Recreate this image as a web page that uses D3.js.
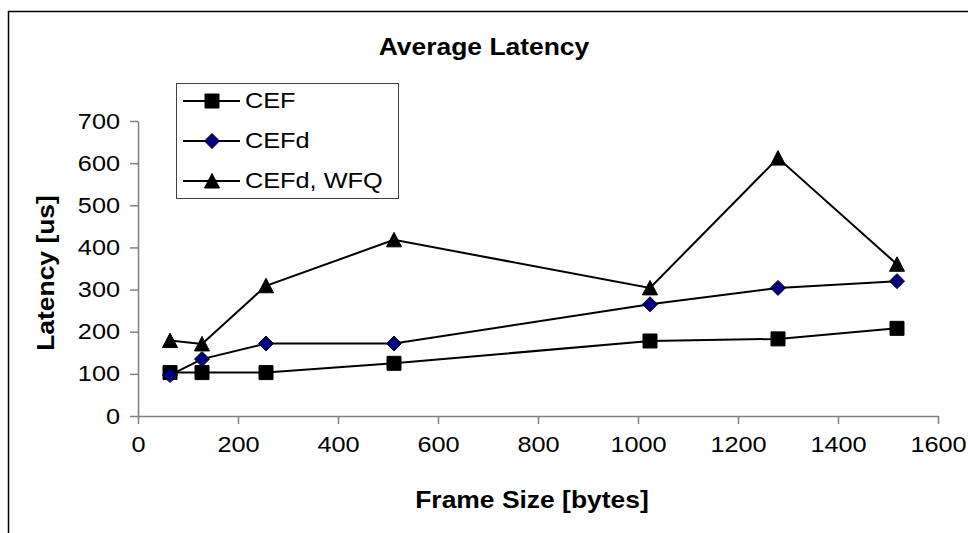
<!DOCTYPE html>
<html>
<head>
<meta charset="utf-8">
<script src="https://cdn.jsdelivr.net/npm/d3@7"></script>
<style>
  body { margin: 0; background: #fff; }
  text { font-family: "Liberation Sans", Arial, sans-serif; fill: #000; }
</style>
</head>
<body>
<svg id="chart" width="968" height="533"></svg>
<script>
// Frame sizes tested (bytes) and the measured average latency (us) per scheme
const frameSizes = [64, 128, 256, 512, 1024, 1280, 1518];
const seriesNames = ["CEF", "CEFd", "CEFd, WFQ"];
const cefLatency = [103, 103, 103, 125, 178, 183, 208];
const cefdLatency = [97, 135, 172, 172, 265, 304, 320];
const cefdWfqLatency = [179, 171, 309, 418, 304, 612, 360];
const xTicks = [0, 200, 400, 600, 800, 1000, 1200, 1400, 1600];
const yTicks = [0, 100, 200, 300, 400, 500, 600, 700];

const series = [
  { name: seriesNames[0], values: cefLatency, marker: "square" },
  { name: seriesNames[1], values: cefdLatency, marker: "diamond" },
  { name: seriesNames[2], values: cefdWfqLatency, marker: "triangle" }
];

const svg = d3.select("#chart");
const STRETCH = 1.15;   // the labels are set in a slightly wide face
const fontSize = 22;
const titleSize = 23;

const x = d3.scaleLinear().domain([0, 1600]).range([138, 938]);
const y = d3.scaleLinear().domain([0, 700]).range([416, 121]);

// widen a text element around its own anchor point
function widen(sel) {
  sel.attr("transform", function () {
    const tx = +this.getAttribute("x") || 0;
    const ty = +this.getAttribute("y") || 0;
    return `translate(${tx},${ty}) scale(${STRETCH},1) translate(${-tx},${-ty})`;
  });
}

// chart frame (runs off the right and bottom edge)
svg.append("path")
  .attr("d", "M8.5,540 V11.5 H975")
  .attr("fill", "none")
  .attr("stroke", "#000")
  .attr("stroke-width", 1.5);

// title
svg.append("text")
  .attr("x", 484).attr("y", 47)
  .attr("text-anchor", "middle")
  .attr("dominant-baseline", "central")
  .style("font-size", titleSize + "px")
  .style("font-weight", "bold")
  .text("Average Latency")
  .call(widen);

// axes
const axisColor = "#808080";
const gx = svg.append("g")
  .attr("transform", `translate(0,${y(0)})`)
  .call(d3.axisBottom(x).tickValues(xTicks).tickFormat(d3.format("d"))
    .tickSize(8).tickSizeOuter(0).tickPadding(12));
const gy = svg.append("g")
  .attr("transform", `translate(${x(0)},0)`)
  .call(d3.axisLeft(y).tickValues(yTicks).tickFormat(d3.format("d"))
    .tickSize(8).tickSizeOuter(0).tickPadding(10));

[gx, gy].forEach(g => {
  g.attr("font-family", null).attr("font-size", null);
  g.select(".domain").attr("stroke", axisColor).attr("stroke-width", 1.5);
  g.selectAll(".tick line").attr("stroke", axisColor).attr("stroke-width", 1.5);
  g.selectAll(".tick text")
    .attr("fill", "#000")
    .style("font-size", fontSize + "px")
    .call(widen);
});

// axis titles
svg.append("text")
  .attr("x", 532).attr("y", 500)
  .attr("text-anchor", "middle")
  .attr("dominant-baseline", "central")
  .style("font-size", titleSize + "px")
  .style("font-weight", "bold")
  .text("Frame Size [bytes]")
  .call(widen);

svg.append("g")
  .attr("transform", "translate(46,273) rotate(-90)")
  .append("text")
  .attr("x", 0).attr("y", 0)
  .attr("text-anchor", "middle")
  .attr("dominant-baseline", "central")
  .style("font-size", titleSize + "px")
  .style("font-weight", "bold")
  .text("Latency [us]")
  .call(widen);

// marker shapes
const markerPath = {
  square: "M-7,-7H7V7H-7Z",
  diamond: "M0,-7.5L7.5,0L0,7.5L-7.5,0Z",
  triangle: "M0,-7.5L7.5,7L-7.5,7Z"
};
const markerFill = { square: "#000", diamond: "#000080", triangle: "#000" };

function drawMarker(g, kind, cx, cy) {
  g.append("path")
    .attr("d", markerPath[kind])
    .attr("transform", `translate(${cx},${cy})`)
    .attr("fill", markerFill[kind])
    .attr("stroke", "#000")
    .attr("stroke-width", 1);
}

const line = d3.line().x((d, i) => x(frameSizes[i])).y(d => y(d));
const plot = svg.append("g");

series.forEach(s => {
  plot.append("path")
    .attr("d", line(s.values))
    .attr("fill", "none")
    .attr("stroke", "#000")
    .attr("stroke-width", 2);
});
series.forEach(s => {
  const g = plot.append("g");
  s.values.forEach((v, i) => drawMarker(g, s.marker, x(frameSizes[i]), y(v)));
});

// legend
const legend = svg.append("g");
legend.append("rect")
  .attr("x", 176.5).attr("y", 83.5)
  .attr("width", 222).attr("height", 115)
  .attr("fill", "#fff")
  .attr("stroke", "#404040")
  .attr("stroke-width", 1);

series.forEach((s, i) => {
  const ly = 101 + i * 40;
  legend.append("line")
    .attr("x1", 183).attr("x2", 240)
    .attr("y1", ly).attr("y2", ly)
    .attr("stroke", "#000").attr("stroke-width", 2);
  drawMarker(legend, s.marker, 212, ly);
  legend.append("text")
    .attr("x", 245).attr("y", ly)
    .attr("dominant-baseline", "central")
    .style("font-size", fontSize + "px")
    .text(s.name)
    .call(widen);
});
</script>
</body>
</html>
